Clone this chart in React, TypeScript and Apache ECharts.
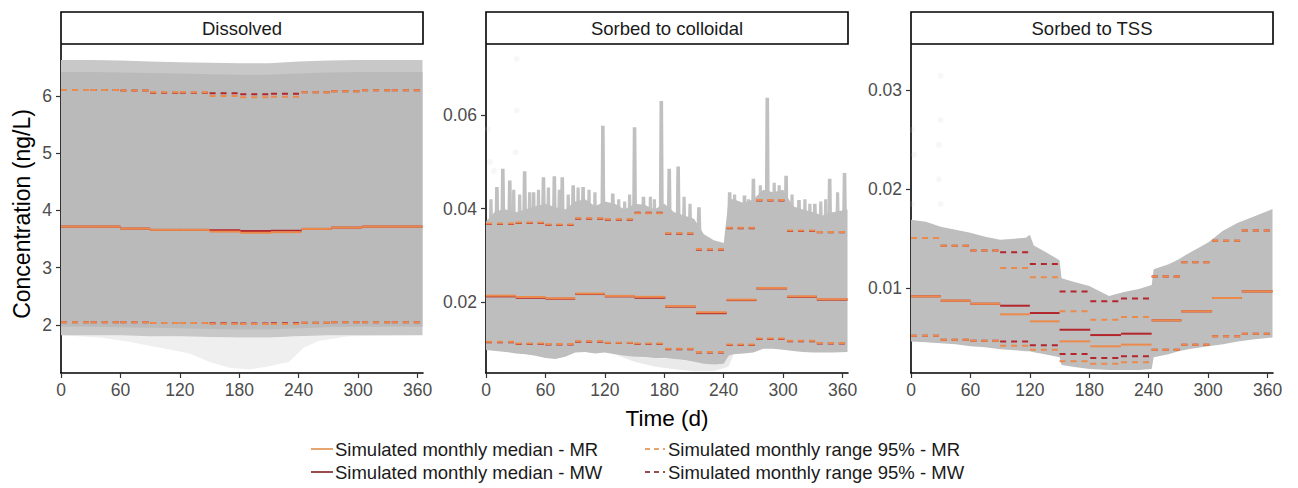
import React, { useEffect, useRef } from "react";
import * as echarts from "echarts";

// ---------- shared ----------
const xTicks = [0, 60, 120, 180, 240, 300, 360];
const monthBounds = [0, 30, 60, 90, 120, 150, 181, 212, 243, 273, 304, 334, 365];
const panelTitles = ["Dissolved", "Sorbed to colloidal", "Sorbed to TSS"];
const legendLabels = [
  "Simulated monthly median - MR",
  "Simulated monthly median - MW",
  "Simulated monthly range 95% - MR",
  "Simulated monthly range 95% - MW",
];

// ---------- Dissolved ----------
const dissYTicks = [2, 3, 4, 5, 6];
const dissMedMR = [3.718, 3.718, 3.683, 3.66, 3.66, 3.63, 3.61, 3.62, 3.677, 3.7, 3.718, 3.718];
const dissMedMW = [3.718, 3.718, 3.683, 3.66, 3.66, 3.654, 3.64, 3.645, 3.677, 3.7, 3.718, 3.718];
const dissUpMR = [6.105, 6.105, 6.093, 6.064, 6.064, 6.0, 5.977, 5.988, 6.064, 6.08, 6.099, 6.099];
const dissUpMW = [6.105, 6.105, 6.093, 6.056, 6.056, 6.047, 6.03, 6.04, 6.064, 6.08, 6.099, 6.099];
const dissLoMR = [2.047, 2.047, 2.047, 2.035, 2.035, 2.02, 2.015, 2.018, 2.04, 2.047, 2.047, 2.047];
const dissLoMW = [2.047, 2.047, 2.047, 2.035, 2.035, 2.03, 2.025, 2.028, 2.04, 2.047, 2.047, 2.047];
const dissEnvDays = [0, 30, 60, 90, 120, 150, 180, 210, 240, 270, 300, 330, 365];
const dissEnvUpper = [6.63, 6.63, 6.62, 6.6, 6.59, 6.58, 6.57, 6.57, 6.6, 6.62, 6.63, 6.63, 6.63];
const dissEnvLight = [6.42, 6.42, 6.41, 6.4, 6.39, 6.38, 6.37, 6.37, 6.39, 6.41, 6.42, 6.42, 6.42];
const dissEnvInnerLo = [1.97, 1.97, 1.96, 1.95, 1.94, 1.93, 1.92, 1.92, 1.94, 1.96, 1.97, 1.97, 1.97];
const dissEnvLower = [1.82, 1.82, 1.82, 1.8, 1.8, 1.79, 1.78, 1.78, 1.8, 1.82, 1.82, 1.82, 1.82];
const dissFringeDays = [0, 40, 70, 100, 130, 150, 170, 190, 210, 230, 245, 260, 290, 365];
const dissFringeTop = [1.82, 1.82, 1.82, 1.8, 1.8, 1.79, 1.78, 1.78, 1.78, 1.79, 1.8, 1.82, 1.82, 1.82];
const dissFringeLow = [1.82, 1.78, 1.7, 1.6, 1.5, 1.35, 1.25, 1.22, 1.28, 1.35, 1.6, 1.72, 1.8, 1.82];

// ---------- Sorbed to colloidal ----------
const collYTicks = [0.02, 0.04, 0.06];
const collMedMR = [0.02135, 0.02106, 0.0208, 0.0218, 0.0213, 0.0211, 0.0191, 0.0178, 0.0205, 0.023, 0.0212, 0.0206];
const collMedMW = [0.0212, 0.0209, 0.0207, 0.0217, 0.0212, 0.0209, 0.019, 0.0176, 0.0204, 0.0229, 0.0211, 0.0205];
const collUpMR = [0.0368, 0.037, 0.0366, 0.0379, 0.0377, 0.039, 0.0347, 0.0313, 0.0359, 0.0418, 0.0353, 0.035];
const collUpMW = [0.0367, 0.0369, 0.0365, 0.0378, 0.0376, 0.0391, 0.0346, 0.0312, 0.0358, 0.0417, 0.0352, 0.0349];
const collLoMR = [0.0115, 0.0111, 0.011, 0.0116, 0.0113, 0.0111, 0.01, 0.0093, 0.0109, 0.0122, 0.0117, 0.0112];
const collLoMW = [0.0114, 0.011, 0.0109, 0.0115, 0.0112, 0.011, 0.0099, 0.0092, 0.0108, 0.0121, 0.0116, 0.0111];
const collEnvDays = [0, 10, 20, 30, 40, 50, 60, 70, 80, 90, 100, 110, 120, 130, 140, 150, 160, 170, 180, 190, 200, 210, 220, 230, 240, 245, 250, 260, 270, 280, 290, 300, 310, 320, 330, 340, 350, 365];
const collEnvUpper = [0.0372, 0.0395, 0.0398, 0.0392, 0.0398, 0.0405, 0.041, 0.0403, 0.0398, 0.0415, 0.042, 0.0405, 0.0415, 0.041, 0.0398, 0.041, 0.0408, 0.0398, 0.041, 0.0392, 0.0385, 0.0378, 0.0345, 0.0332, 0.0326, 0.042, 0.042, 0.0412, 0.042, 0.044, 0.0435, 0.044, 0.0405, 0.0398, 0.0392, 0.0385, 0.0392, 0.0398];
const collEnvLower = [0.0097, 0.0095, 0.0093, 0.009, 0.0088, 0.0085, 0.008, 0.0078, 0.0083, 0.0092, 0.0093, 0.009, 0.0092, 0.0088, 0.0085, 0.0083, 0.0082, 0.008, 0.008, 0.0078, 0.0076, 0.0072, 0.0068, 0.0066, 0.0068, 0.0085, 0.0088, 0.009, 0.0092, 0.01, 0.01, 0.0098, 0.0095, 0.0093, 0.0092, 0.0092, 0.0092, 0.0093];
const collFringeDays = [130, 150, 170, 190, 210, 230, 245, 250];
const collFringeTop = [0.0088, 0.0083, 0.008, 0.0078, 0.0072, 0.0066, 0.0085, 0.0088];
const collFringeLow = [0.0088, 0.0072, 0.0062, 0.0056, 0.0052, 0.0052, 0.0062, 0.0088];
const collSpikeDays = [11, 17, 24, 39, 48, 58, 69, 77, 88, 98, 118, 128, 150, 159, 177, 185, 194, 215, 246, 261, 270, 284, 303, 316, 332, 347, 362];
const collSpikeTops = [0.0446, 0.0485, 0.046, 0.048, 0.0435, 0.0467, 0.0469, 0.0467, 0.045, 0.0446, 0.0577, 0.0432, 0.0574, 0.0425, 0.063, 0.0485, 0.049, 0.0403, 0.0435, 0.0428, 0.0464, 0.0637, 0.047, 0.0418, 0.041, 0.0464, 0.0476];
const collMinorSpikeDays = [5, 28, 34, 44, 53, 63, 74, 83, 93, 104, 110, 134, 140, 145, 166, 170, 200, 206, 236, 251, 256, 265, 277, 291, 296, 309, 322, 327, 338, 343, 355];
const collMinorSpikeTops = [0.042, 0.044, 0.043, 0.0435, 0.044, 0.0445, 0.044, 0.043, 0.0445, 0.044, 0.0435, 0.042, 0.0415, 0.043, 0.0425, 0.042, 0.0425, 0.041, 0.034, 0.043, 0.041, 0.042, 0.045, 0.0455, 0.045, 0.043, 0.042, 0.041, 0.0415, 0.042, 0.0435];
const collOutliers = [[31, 0.072], [31, 0.061], [30, 0.052], [2, 0.057], [4, 0.05], [8, 0.048]];

// ---------- Sorbed to TSS ----------
const tssYTicks = [0.01, 0.02, 0.03];
const tssMedMR = [0.00916, 0.00872, 0.00841, 0.00734, 0.00663, 0.0046, 0.0041, 0.00427, 0.00673, 0.00764, 0.00899, 0.00966];
const tssMedMW = [0.00916, 0.00872, 0.00841, 0.00821, 0.00747, 0.00578, 0.00524, 0.00538, 0.00673, 0.00764, 0.00899, 0.00966];
const tssUpMR = [0.01506, 0.01428, 0.01381, 0.01202, 0.01108, 0.00764, 0.0068, 0.00707, 0.01118, 0.0126, 0.01479, 0.01583];
const tssUpMW = [0.01506, 0.01428, 0.01381, 0.01361, 0.01243, 0.00966, 0.00865, 0.00895, 0.01118, 0.0126, 0.01479, 0.01583];
const tssLoMR = [0.00518, 0.00477, 0.00467, 0.00417, 0.00376, 0.00258, 0.00234, 0.00248, 0.00376, 0.00427, 0.00511, 0.00538];
const tssLoMW = [0.00518, 0.00477, 0.00467, 0.0046, 0.0042, 0.00332, 0.00292, 0.00309, 0.00376, 0.00427, 0.00511, 0.00538];
const tssEnvDays = [0, 15, 30, 45, 60, 75, 90, 105, 116, 120, 124, 135, 150, 152, 165, 180, 200, 215, 230, 243, 245, 260, 270, 280, 300, 315, 330, 345, 365];
const tssEnvUpper = [0.0169, 0.0167, 0.0162, 0.0159, 0.0156, 0.0152, 0.0149, 0.015, 0.0151, 0.0154, 0.0143, 0.0137, 0.0128, 0.011, 0.0106, 0.0102, 0.0092, 0.0096, 0.0099, 0.0103, 0.0119, 0.0124, 0.0129, 0.0135, 0.0146, 0.0158, 0.0166, 0.0172, 0.018];
const tssEnvLower = [0.0046, 0.0045, 0.0044, 0.0043, 0.0041, 0.004, 0.0038, 0.0037, 0.0036, 0.0036, 0.0035, 0.0033, 0.003, 0.0022, 0.002, 0.0018, 0.0017, 0.0017, 0.0017, 0.0018, 0.003, 0.0033, 0.0036, 0.0038, 0.0041, 0.0043, 0.0046, 0.0048, 0.005];
const tssOutliers = [[30, 0.0315], [30, 0.027], [28, 0.0245], [28, 0.021], [30, 0.0185], [1, 0.026], [3, 0.0235], [1, 0.0185]];

// ---------- styles ----------
const MR_COLOR = "#EC8A4C";
const MW_COLOR = "#B3262C";
const LEG_MR = "#E6A46E";
const LEG_MW = "#9C4C4C";
const BAND = "#BEBEBE";
const BAND_DARK = "#BABABA";
const BAND_LIGHT = "#C8C8C8";
const FRINGE = "#EFEFEF";
const FONT = "Liberation Sans, Arial, Helvetica, sans-serif";

const grids = [
  { left: 61, top: 45, width: 362, height: 328 },
  { left: 486, top: 45, width: 362, height: 328 },
  { left: 911, top: 45, width: 362, height: 328 },
];
const yRanges = [
  [1.16, 6.89],
  [0.0048, 0.075],
  [0.0014, 0.0346],
];

function bandSeries(gi: number, days: number[], upper: number[], lower: number[], color: string, z: number) {
  return {
    type: "custom",
    xAxisIndex: gi,
    yAxisIndex: gi,
    silent: true,
    z,
    clip: true,
    data: [[days[0], lower[0]]],
    renderItem: (_p: any, api: any) => {
      const pts: number[][] = [];
      for (let i = 0; i < days.length; i++) pts.push(api.coord([days[i], upper[i]]));
      for (let i = days.length - 1; i >= 0; i--) pts.push(api.coord([days[i], lower[i]]));
      return { type: "polygon", shape: { points: pts }, style: { fill: color } };
    },
  };
}

function stepSeries(gi: number, values: number[], color: string, width: number, dashed: boolean, z: number) {
  const data = values.map((v, i) => [monthBounds[i], monthBounds[i + 1], v]);
  return {
    type: "custom",
    xAxisIndex: gi,
    yAxisIndex: gi,
    silent: true,
    z,
    encode: { x: [0, 1], y: 2 },
    data,
    renderItem: (_p: any, api: any) => {
      const a = api.coord([api.value(0), api.value(2)]);
      const b = api.coord([api.value(1), api.value(2)]);
      return {
        type: "line",
        shape: { x1: a[0], y1: a[1], x2: b[0], y2: b[1] },
        style: { stroke: color, lineWidth: width, lineDash: dashed ? [6, 5] : null, fill: null },
      };
    },
  };
}

function spikeSeries(gi: number, days: number[], tops: number[], base: number, halfW: number, color: string, z: number) {
  return {
    type: "custom",
    xAxisIndex: gi,
    yAxisIndex: gi,
    silent: true,
    z,
    encode: { x: 0, y: 1 },
    data: days.map((d, i) => [d, tops[i]]),
    renderItem: (_p: any, api: any) => {
      const d = api.value(0);
      const t = api.value(1);
      const pts = [
        api.coord([d - halfW - 0.8, base]),
        api.coord([d - halfW, t]),
        api.coord([d + halfW, t]),
        api.coord([d + halfW + 0.8, base]),
      ];
      return { type: "polygon", shape: { points: pts }, style: { fill: color } };
    },
  };
}

function outlierSeries(gi: number, pts: number[][]) {
  return {
    type: "scatter",
    xAxisIndex: gi,
    yAxisIndex: gi,
    silent: true,
    z: 1,
    symbolSize: 6,
    itemStyle: { color: "rgba(200,200,200,0.18)" },
    data: pts,
  };
}

function linesFor(gi: number, medMR: number[], medMW: number[], upMR: number[], upMW: number[], loMR: number[], loMW: number[]) {
  return [
    stepSeries(gi, upMW, MW_COLOR, 2, true, 5),
    stepSeries(gi, loMW, MW_COLOR, 2, true, 5),
    stepSeries(gi, medMW, MW_COLOR, 2, false, 5),
    stepSeries(gi, upMR, MR_COLOR, 2, true, 6),
    stepSeries(gi, loMR, MR_COLOR, 2, true, 6),
    stepSeries(gi, medMR, MR_COLOR, 2, false, 6),
  ];
}

export default function App() {
  const ref = useRef<HTMLDivElement>(null);
  useEffect(() => {
    if (!ref.current) return;
    const chart = echarts.init(ref.current, null, { renderer: "svg" });

    const yTickSets = [dissYTicks, collYTicks, tssYTicks];
    const axisLineStyle = { color: "#000", width: 1.6 };

    const xAxis = grids.map((_, i) => ({
      type: "value",
      gridIndex: i,
      min: 0,
      max: 365.5,
      axisLine: { show: true, onZero: false, lineStyle: axisLineStyle },
      axisTick: { show: true, length: 5, customValues: xTicks, lineStyle: { color: "#333", width: 1.2 } },
      axisLabel: { customValues: xTicks, fontSize: 17.5, color: "#4D4D4D", margin: 8, fontFamily: FONT },
      splitLine: { show: false },
    }));
    const yAxis = grids.map((_, i) => ({
      type: "value",
      gridIndex: i,
      min: yRanges[i][0],
      max: yRanges[i][1],
      axisLine: { show: true, onZero: false, lineStyle: axisLineStyle },
      axisTick: { show: true, length: 5, customValues: yTickSets[i], lineStyle: { color: "#333", width: 1.2 } },
      axisLabel: {
        customValues: yTickSets[i],
        fontSize: 17.5,
        color: "#4D4D4D",
        margin: 9,
        fontFamily: FONT,
        formatter: (v: number) => (i === 0 ? String(Math.round(v)) : v.toFixed(2)),
      },
      splitLine: { show: false },
    }));

    const series: any[] = [
      // Dissolved
      bandSeries(0, dissFringeDays, dissFringeTop, dissFringeLow, FRINGE, 1),
      bandSeries(0, dissEnvDays, dissEnvUpper, dissEnvLower, BAND_LIGHT, 2),
      bandSeries(0, dissEnvDays, dissEnvLight, dissEnvInnerLo, BAND_DARK, 3),
      ...linesFor(0, dissMedMR, dissMedMW, dissUpMR, dissUpMW, dissLoMR, dissLoMW),
      // Colloidal
      outlierSeries(1, collOutliers),
      bandSeries(1, collFringeDays, collFringeTop, collFringeLow, "#EAEAEA", 1),
      spikeSeries(1, collMinorSpikeDays, collMinorSpikeTops, 0.034, 1.6, "#C2C2C2", 2),
      spikeSeries(1, collSpikeDays, collSpikeTops, 0.034, 1.8, "#C0C0C0", 2),
      bandSeries(1, collEnvDays, collEnvUpper, collEnvLower, BAND, 3),
      ...linesFor(1, collMedMR, collMedMW, collUpMR, collUpMW, collLoMR, collLoMW),
      // TSS
      outlierSeries(2, tssOutliers),
      bandSeries(2, tssEnvDays, tssEnvUpper, tssEnvLower, BAND, 3),
      ...linesFor(2, tssMedMR, tssMedMW, tssUpMR, tssUpMW, tssLoMR, tssLoMW),
    ];

    const graphic: any[] = [];
    grids.forEach((g, i) => {
      graphic.push({
        type: "rect",
        shape: { x: g.left, y: 12, width: g.width, height: 32 },
        style: { fill: "#fff", stroke: "#000", lineWidth: 1.6 },
        z: 10,
      });
      graphic.push({
        type: "text",
        x: g.left + g.width / 2,
        y: 28.5,
        style: { text: panelTitles[i], fontSize: 18.5, fill: "#1A1A1A", fontFamily: FONT, align: "center", verticalAlign: "middle" },
        z: 11,
      });
    });
    graphic.push({
      type: "text",
      x: 22,
      y: 214,
      rotation: Math.PI / 2,
      style: { text: "Concentration (ng/L)", fontSize: 23, fill: "#000", fontFamily: FONT, align: "center", verticalAlign: "middle" },
    });
    graphic.push({
      type: "text",
      x: 667,
      y: 418,
      style: { text: "Time (d)", fontSize: 22.5, fill: "#000", fontFamily: FONT, align: "center", verticalAlign: "middle" },
    });
    // legend
    const legRows = [449, 472];
    const legCols = [{ x0: 311, x1: 333, tx: 335 }, { x0: 645, x1: 665, tx: 668 }];
    const legColors = [LEG_MR, LEG_MW, LEG_MR, LEG_MW];
    legendLabels.forEach((lab, k) => {
      const col = legCols[Math.floor(k / 2)];
      const y = legRows[k % 2];
      const dashed = k >= 2;
      graphic.push({
        type: "line",
        shape: { x1: col.x0, y1: y, x2: col.x1, y2: y },
        style: { stroke: legColors[k], lineWidth: 2, lineDash: dashed ? [5, 4] : null },
      });
      graphic.push({
        type: "text",
        x: col.tx,
        y,
        style: { text: lab, fontSize: 18.5, fill: "#1A1A1A", fontFamily: FONT, align: "left", verticalAlign: "middle" },
      });
    });

    chart.setOption({
      animation: false,
      backgroundColor: "#fff",
      grid: grids.map((g) => ({ ...g, containLabel: false, outerBoundsMode: "none" })),
      xAxis,
      yAxis,
      series,
      graphic,
    });
    return () => chart.dispose();
  }, []);
  return <div ref={ref} style={{ position: "absolute", left: 0, top: 0, width: 1298, height: 488 }} />;
}
